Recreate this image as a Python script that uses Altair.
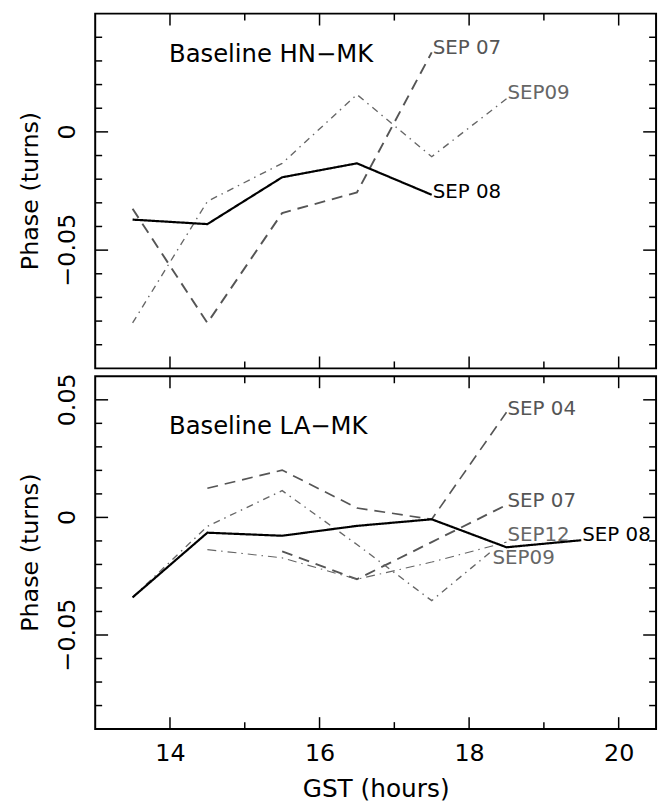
import altair as alt
import pandas as pd

# ---------------- data ----------------
X_DOMAIN = [13, 20.5]
TOP_DOMAIN = [-0.1, 0.05]
BOT_DOMAIN = [-0.09, 0.06]

# Top panel: Baseline HN-MK
top_sep08_x = [13.5, 14.5, 15.5, 16.5, 17.5]
top_sep08_y = [-0.0371, -0.0390, -0.0192, -0.0133, -0.0266]
top_sep07_x = [13.5, 14.5, 15.5, 16.5, 17.5]
top_sep07_y = [-0.0325, -0.0808, -0.0343, -0.0256, 0.0336]
top_sep09_x = [13.5, 14.5, 15.5, 16.5, 17.5, 18.5]
top_sep09_y = [-0.0808, -0.0294, -0.0133, 0.0158, -0.0105, 0.0140]

# Bottom panel: Baseline LA-MK
bot_sep08_x = [13.5, 14.5, 15.5, 16.5, 17.5, 18.5, 19.5]
bot_sep08_y = [-0.0340, -0.0065, -0.0078, -0.0036, -0.0008, -0.0127, -0.0097]
bot_sep04_x = [14.5, 15.5, 16.5, 17.5, 18.5]
bot_sep04_y = [0.0124, 0.0201, 0.0040, -0.0008, 0.0447]
bot_sep07_x = [15.5, 16.5, 17.5, 18.5]
bot_sep07_y = [-0.0144, -0.0263, -0.0105, 0.0053]
bot_sep12_x = [14.5, 15.5, 16.5, 17.5, 18.5]
bot_sep12_y = [-0.0137, -0.0172, -0.0263, -0.0190, -0.0105]
bot_sep09_x = [13.5, 14.5, 15.5, 16.5, 17.5, 18.3]
bot_sep09_y = [-0.0340, -0.0038, 0.0114, -0.0115, -0.0354, -0.0144]

# series labels (text, x, baseline y)
top_label_text = ["SEP 07", "SEP09", "SEP 08"]
top_label_x = [17.5, 18.5, 17.5]
top_label_y = [0.0329, 0.0140, -0.0280]
bot_label_text = ["SEP 04", "SEP 07", "SEP12", "SEP 08", "SEP09"]
bot_label_x = [18.5, 18.5, 18.5, 19.5, 18.3]
bot_label_y = [0.0436, 0.0046, -0.0101, -0.0101, -0.0200]

top_title = "Baseline HN\u2212MK"
top_title_x, top_title_y = 14.0, 0.0294
bot_title = "Baseline LA\u2212MK"
bot_title_x, bot_title_y = 14.0, 0.0356

y_title = "Phase (turns)"
x_title = "GST (hours)"

# tick positions and tick labels
x_major = [14, 16, 18, 20]
x_minor = [15, 17, 19]
top_y_major = [-0.05, 0.0]
top_y_minor = [-0.09, -0.08, -0.07, -0.06, -0.04, -0.03, -0.02, -0.01, 0.01, 0.02, 0.03, 0.04]
bot_y_major = [-0.05, 0.0, 0.05]
bot_y_minor = [-0.08, -0.07, -0.06, -0.04, -0.03, -0.02, -0.01, 0.01, 0.02, 0.03, 0.04]
top_y_label_values = [0.0, -0.05]
top_y_label_text = ["0", "\u22120.05"]
bot_y_label_values = [0.05, 0.0, -0.05]
bot_y_label_text = ["0.05", "0", "\u22120.05"]
x_labels = [14, 16, 18, 20]

# ---------------- styling ----------------
W = 566
H_TOP = 358
H_BOT = 356
FONT = "DejaVu Sans"

series_domain = ["SEP 08", "SEP 07", "SEP 04", "SEP09", "SEP12"]
series_color = ["#000000", "#555555", "#555555", "#666666", "#666666"]
series_dash = [[1, 0], [11, 7], [11, 7], [7, 5, 1.5, 5], [9, 5, 1.5, 5]]
series_width = [2.2, 1.1, 1.1, 1.0, 1.0]

color_scale = alt.Scale(domain=series_domain, range=series_color)
dash_scale = alt.Scale(domain=series_domain, range=series_dash)
width_scale = alt.Scale(domain=series_domain, range=series_width)
xscale = alt.Scale(domain=X_DOMAIN, nice=False, zero=False)


def long_df(pairs):
    rows = []
    for name, xs, ys in pairs:
        for i, (xv, yv) in enumerate(zip(xs, ys)):
            rows.append({"series": name, "x": xv, "y": yv, "i": i})
    return pd.DataFrame(rows)


def tick_layers(xaxis, yscale, height, ymaj, ymin):
    layers = []
    for vals, ln in ((ymaj, 13), (ymin, 7)):
        df = pd.DataFrame({"y": vals})
        for x0, x1 in ((0, ln), (W, W - ln)):
            layers.append(
                alt.Chart(df).mark_rule(color="black", strokeWidth=1.5).encode(
                    y=alt.Y("y:Q", scale=yscale, axis=None),
                    x=alt.value(x0), x2=alt.value(x1),
                )
            )
    for vals, ln in ((x_major, 12), (x_minor, 7)):
        df = pd.DataFrame({"x": vals})
        for y0, y1 in ((0, ln), (height, height - ln)):
            layers.append(
                alt.Chart(df).mark_rule(color="black", strokeWidth=1.5).encode(
                    x=alt.X("x:Q", scale=xscale, axis=xaxis),
                    y=alt.value(y0), y2=alt.value(y1),
                )
            )
    return layers


def panel(pairs, ldf, title, tx, ty, ydomain, height, ymaj, ymin,
          ylab_vals, ylab_text, show_x_axis):
    yscale = alt.Scale(domain=ydomain, nice=False, zero=False)
    df = long_df(pairs)
    if show_x_axis:
        xaxis = alt.Axis(
            values=x_labels, format="d", title=x_title,
            labelFontSize=24, titleFontSize=25, labelPadding=13, titlePadding=11,
            ticks=False, tickSize=0, domain=False, grid=False,
            labelColor="black", titleColor="black", titleFontWeight="normal",
            labelFont=FONT, titleFont=FONT, labelFlush=False,
        )
    else:
        xaxis = None
    lines = alt.Chart(df).mark_line(strokeJoin="miter").encode(
        x=alt.X("x:Q", scale=xscale, axis=xaxis),
        y=alt.Y("y:Q", scale=yscale, axis=None),
        detail="series:N",
        order="i:Q",
        color=alt.Color("series:N", scale=color_scale, legend=None),
        strokeDash=alt.StrokeDash("series:N", scale=dash_scale, legend=None),
        strokeWidth=alt.StrokeWidth("series:N", scale=width_scale, legend=None),
    )
    labels = alt.Chart(ldf).mark_text(
        align="left", baseline="alphabetic", dx=1, fontSize=20, font=FONT
    ).encode(
        x=alt.X("x:Q", scale=xscale, axis=xaxis),
        y=alt.Y("y:Q", scale=yscale, axis=None),
        text="text:N",
        color=alt.Color("series:N", scale=color_scale, legend=None),
    )
    tdf = pd.DataFrame({"x": [tx], "y": [ty], "text": [title]})
    ttl = alt.Chart(tdf).mark_text(
        align="left", baseline="alphabetic", dx=-1, fontSize=24.5, font=FONT, color="black"
    ).encode(
        x=alt.X("x:Q", scale=xscale, axis=xaxis),
        y=alt.Y("y:Q", scale=yscale, axis=None),
        text="text:N",
    )
    # y tick labels (rotated) and y-axis title
    ylab_df = pd.DataFrame({"y": ylab_vals, "text": ylab_text})
    ylabs = alt.Chart(ylab_df).mark_text(
        angle=270, align="center", baseline="middle", fontSize=24, font=FONT, color="black"
    ).encode(
        y=alt.Y("y:Q", scale=yscale, axis=None),
        x=alt.value(-27.5),
        text="text:N",
    )
    ytitle_df = pd.DataFrame({"text": [y_title]})
    ytitle = alt.Chart(ytitle_df).mark_text(
        angle=270, align="center", baseline="middle", fontSize=24, font=FONT, color="black"
    ).encode(
        x=alt.value(-65), y=alt.value(height / 2), text="text:N",
    )
    layers = [lines, labels, ttl, ylabs, ytitle] + tick_layers(xaxis, yscale, height, ymaj, ymin)
    return alt.layer(*layers).properties(width=W, height=height)


top_pairs = [
    ("SEP 07", top_sep07_x, top_sep07_y),
    ("SEP09", top_sep09_x, top_sep09_y),
    ("SEP 08", top_sep08_x, top_sep08_y),
]
bot_pairs = [
    ("SEP 04", bot_sep04_x, bot_sep04_y),
    ("SEP 07", bot_sep07_x, bot_sep07_y),
    ("SEP12", bot_sep12_x, bot_sep12_y),
    ("SEP09", bot_sep09_x, bot_sep09_y),
    ("SEP 08", bot_sep08_x, bot_sep08_y),
]
top_ldf = pd.DataFrame({"text": top_label_text, "series": top_label_text,
                        "x": top_label_x, "y": top_label_y})
bot_ldf = pd.DataFrame({"text": bot_label_text, "series": bot_label_text,
                        "x": bot_label_x, "y": bot_label_y})

top = panel(top_pairs, top_ldf, top_title, top_title_x, top_title_y,
            TOP_DOMAIN, H_TOP, top_y_major, top_y_minor,
            top_y_label_values, top_y_label_text, False)
bot = panel(bot_pairs, bot_ldf, bot_title, bot_title_x, bot_title_y,
            BOT_DOMAIN, H_BOT, bot_y_major, bot_y_minor,
            bot_y_label_values, bot_y_label_text, True)

chart = alt.vconcat(top, bot, spacing=8, bounds="flush").resolve_scale(
    y="independent"
).properties(
    padding={"left": 10, "top": 0, "right": 5, "bottom": 5}
).configure(
    font=FONT,
    view=alt.ViewConfig(stroke="black", strokeWidth=2),
)

chart.save("out.html", embed_options={"renderer": "svg", "actions": False})
